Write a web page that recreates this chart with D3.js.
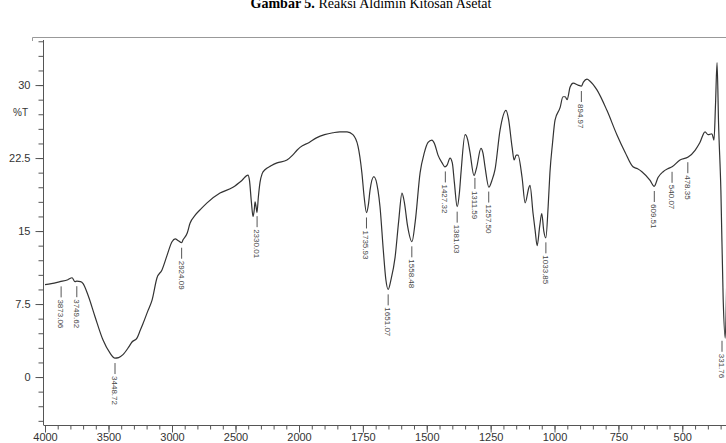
<!DOCTYPE html>
<html>
<head>
<meta charset="utf-8">
<script src="https://cdn.jsdelivr.net/npm/d3@7"></script>
<style>
  body { margin: 0; background: #fff; }
  svg { display: block; }
  .axis path, .axis line { stroke: #555; }
  .axis text { fill: #333; font-family: "Liberation Sans", Arial, sans-serif; font-size: 11px; }
  .peak-label { fill: #444; font-family: "Liberation Sans", Arial, sans-serif; font-size: 8px; }
</style>
</head>
<body>
<svg width="726" height="443"></svg>
<script>
// FTIR spectrum, wavenumber (cm-1) vs %T
var wavenumbers = [4000, 3950, 3882, 3820, 3787, 3764, 3749, 3720, 3700, 3661, 3606, 3543, 3490, 3449, 3420,
  3386, 3340, 3315, 3276, 3250, 3228, 3190, 3157, 3118, 3079, 3039, 3000, 2975, 2950, 2924, 2913, 2880, 2858,
  2819, 2770, 2724, 2622, 2520, 2450, 2402, 2390, 2375, 2362, 2352, 2346, 2338, 2331, 2320, 2307, 2290, 2268,
  2220, 2173, 2095, 2050, 2016, 1996, 1960, 1930, 1900, 1867, 1840, 1812, 1789, 1769, 1754, 1745, 1736, 1728,
  1722, 1707, 1691, 1683, 1670, 1660, 1651, 1640, 1624, 1610, 1597, 1588, 1575, 1558, 1545, 1526, 1510, 1495,
  1480, 1470, 1456, 1440, 1429, 1420, 1409, 1400, 1392, 1381, 1372, 1366, 1350, 1340, 1331, 1315, 1305, 1288,
  1280, 1272, 1257, 1245, 1233, 1213, 1190, 1180, 1166, 1158, 1150, 1143, 1127, 1115, 1100, 1096, 1084, 1076,
  1068, 1058, 1050, 1042, 1034, 1025, 1018, 1008, 998, 978, 967, 958, 951, 939, 927, 908, 895, 887, 873, 861,
  834, 795, 756, 724, 693, 675, 658, 626, 610, 595, 575, 557, 540, 509, 477, 450, 431, 411, 399, 384, 376, 370,
  364, 358, 349, 340, 332, 326, 320];
var transmittance = [9.5, 9.6, 9.8, 10.0, 10.2, 9.8, 9.85, 9.8, 9.6, 8.4, 6.2, 3.8, 2.5, 1.95, 2.0,
  2.3, 3.1, 3.6, 4.0, 4.8, 5.5, 6.8, 7.9, 10.2, 11.0, 12.5, 13.9, 14.2, 14.0, 13.8, 14.1, 14.8, 15.8,
  16.6, 17.3, 17.9, 18.9, 19.5, 20.2, 20.75, 20.2, 18.0, 16.5, 17.2, 18.0, 17.5, 16.9, 18.5, 20.0, 20.9, 21.3,
  21.7, 22.0, 22.3, 22.8, 23.3, 23.6, 24.1, 24.6, 24.9, 25.1, 25.2, 25.2, 24.9, 23.7, 21.0, 18.5, 16.9, 17.8,
  19.2, 20.6, 19.2, 17.5, 13.0, 10.0, 9.0, 10.0, 12.3, 16.0, 18.9, 18.0, 15.5, 13.9, 16.0, 21.0, 23.0, 24.1,
  24.35, 24.0, 22.8, 22.0, 21.6, 21.8, 22.5, 22.0, 20.0, 17.5, 19.0, 21.0, 24.9, 24.4, 23.1, 20.7, 21.5, 23.5,
  23.0, 21.6, 19.5, 20.2, 21.3, 25.4, 27.4, 26.5, 23.6, 22.3, 22.8, 22.8, 20.5, 17.9, 19.5, 19.7, 16.8, 15.1,
  13.5, 15.5, 16.8, 15.0, 14.3, 17.5, 21.0, 24.0, 26.4, 27.7, 28.8, 28.8, 28.5, 29.8, 30.2, 30.0, 29.9, 30.3, 30.6, 30.4,
  29.5, 27.4, 24.9, 23.1, 21.6, 21.4, 21.1, 20.2, 19.6, 20.5, 21.1, 21.4, 21.6, 22.3, 22.6, 23.3, 24.1, 25.2, 24.9, 25.0, 24.35, 28,
  32.3, 26, 19.2, 8, 4.0, 10, 20];

// peak labels
var peakWn = [3873.06, 3749.62, 3448.72, 2924.09, 2330.01, 1735.93, 1651.07, 1558.48, 1427.32, 1381.03,
  1311.59, 1257.50, 1033.85, 894.97, 609.51, 540.07, 478.35, 331.76];
var peakText = ['3873.06', '3749.62', '3448.72', '2924.09', '2330.01', '1735.93', '1651.07', '1558.48', '1427.32', '1381.03',
  '1311.59', '1257.50', '1033.85', '894.97', '609.51', '540.07', '478.35', '331.76'];

var xMajor = [4000, 3500, 3000, 2500, 2000, 1750, 1500, 1250, 1000, 750, 500];
var yMajor = [0, 7.5, 15, 22.5, 30];

var svg = d3.select('svg');
var width = +svg.attr('width');

// x scale changes at 2000 cm-1 (double expansion below)
var x = d3.scaleLinear().domain([4000, 2000, 300]).range([45, 299, 733.4]);
var y = d3.scaleLinear().domain([-5, 35]).range([425.7, 36.4]);

var xMinor = d3.range(4000, 2000, -100).concat(d3.range(2000, 299, -50));
var yMinor = d3.range(-4.5, 35, 1.5);

// title (cut by the top of the picture)
var title = svg.append('text')
  .attr('x', 371)
  .attr('y', 8)
  .attr('text-anchor', 'middle')
  .style('font-family', '"Liberation Serif", "Times New Roman", serif')
  .style('font-size', '14px')
  .attr('fill', '#000');
title.append('tspan').style('font-weight', 'bold').text('Gambar 5.');
title.append('tspan').text(' Reaksi Aldimin Kitosan Asetat');

// top frame line
svg.append('path')
  .attr('d', 'M32.5,41V37.5H' + width)
  .attr('fill', 'none')
  .attr('stroke', '#999')
  .attr('stroke-width', 1);

// axes
svg.append('g').attr('class', 'axis')
  .attr('transform', 'translate(0,425.5)')
  .call(d3.axisBottom(x).tickValues(xMinor).tickSize(4).tickFormat(''))
  .call(g => g.select('.domain').attr('d', 'M44,0H' + width));

svg.append('g').attr('class', 'axis')
  .attr('transform', 'translate(0,425.5)')
  .call(d3.axisBottom(x).tickValues(xMajor).tickSize(7).tickPadding(1).tickFormat(d => String(d)))
  .call(g => g.select('.domain').remove());

svg.append('g').attr('class', 'axis')
  .attr('transform', 'translate(43.5,0)')
  .call(d3.axisLeft(y).tickValues(yMinor).tickSize(5).tickFormat(''))
  .call(g => g.select('.domain').attr('d', 'M0,40V425.5'));

svg.append('g').attr('class', 'axis')
  .attr('transform', 'translate(43.5,0)')
  .call(d3.axisLeft(y).tickValues(yMajor).tickSize(8).tickPadding(5).tickFormat(d => String(d)))
  .call(g => g.select('.domain').remove());

svg.append('text')
  .attr('x', 13)
  .attr('y', y(26.8))
  .attr('fill', '#333')
  .style('font-family', '"Liberation Sans", Arial, sans-serif')
  .style('font-size', '10px')
  .text('%T');

// spectrum
var data = wavenumbers.map((w, i) => ({ wn: w, t: transmittance[i] }));
var line = d3.line()
  .x(d => x(d.wn))
  .y(d => y(d.t))
  .curve(d3.curveMonotoneX);

svg.append('path')
  .datum(data)
  .attr('fill', 'none')
  .attr('stroke', '#333')
  .attr('stroke-width', 1.2)
  .attr('d', line);

// value of the curve at a wavenumber
function curveAt(w) {
  for (var i = 0; i < wavenumbers.length - 1; i++) {
    var a = wavenumbers[i], b = wavenumbers[i + 1];
    if (w <= a && w >= b) {
      var f = (a - w) / (a - b);
      return transmittance[i] + f * (transmittance[i + 1] - transmittance[i]);
    }
  }
  return transmittance[transmittance.length - 1];
}

var labels = svg.selectAll('.peak').data(peakWn).enter()
  .append('g')
  .attr('class', 'peak')
  .attr('transform', function (d) {
    var px = Math.min(x(d), 722);
    return 'translate(' + [px, y(curveAt(d)) + 5] + ')';
  });

labels.append('line')
  .attr('x1', 0).attr('x2', 0)
  .attr('y1', 0).attr('y2', 11)
  .attr('stroke', '#555')
  .attr('stroke-width', 1);

labels.append('text')
  .attr('class', 'peak-label')
  .attr('transform', 'translate(-3,13) rotate(90)')
  .text((d, i) => peakText[i]);
</script>
</body>
</html>
